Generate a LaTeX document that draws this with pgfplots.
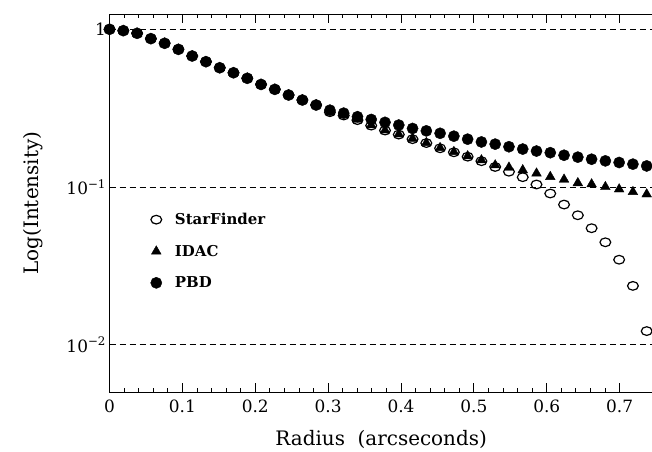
\documentclass[border=0pt]{standalone}
\usepackage{fontspec}
\setmainfont{DejaVu Serif}
\usepackage{pgfplots}
\pgfplotsset{compat=1.18}
\begin{document}
\begin{tikzpicture}
\begin{axis}[
  name=ax,
  scale only axis,
  width=543bp, height=378bp,
  xmin=0, xmax=0.7455,
  ymode=log, ymin=0.005, ymax=1.25,
  xtick={0,0.1,0.2,0.3,0.4,0.5,0.6,0.7},
  xticklabels={0,0.1,0.2,0.3,0.4,0.5,0.6,0.7},
  minor x tick num=4,
  ytick={0.01,0.1,1},
  yticklabels={10\textsuperscript{−2},10\textsuperscript{−1},1},
  /pgf/number format/assume math mode=true,
  yminorticks=false,
  tick align=inside,
  xtick pos=both,
  major tick length=9bp, minor tick length=4bp,
  ytick style={draw=none},
  tick style={black, line width=0.9pt},
  axis line style={line width=0.9pt},
  xticklabel style={font=\fontsize{17}{20}\selectfont, yshift=-4bp},
  yticklabel style={font=\fontsize{17}{20}\selectfont},
  xlabel={Radius\ \ (arcseconds)},
  ylabel={Log(Intensity)},
  label style={font=\fontsize{20}{24}\selectfont},
  xlabel style={yshift=-11bp},
  ylabel style={yshift=17bp},
  legend style={draw=none, fill=none, at={(axis cs:0.0478,0.0725)}, anchor=north west,
    font=\bfseries\fontsize{15}{17}\selectfont, row sep=15bp,
    legend cell align=left},
  legend image code/.code={\draw[#1] plot coordinates {(0.3cm,0cm)}; \path (0cm,0cm) (25bp,0cm);},
  clip=false,
]
\addplot[forget plot, black, line width=0.9pt, dash pattern=on 6.5bp off 3.5bp] coordinates {(0,1) (0.7455,1)};
\addplot[forget plot, black, line width=0.9pt, dash pattern=on 6.5bp off 3.5bp] coordinates {(0,0.1) (0.7455,0.1)};
\addplot[forget plot, black, line width=0.9pt, dash pattern=on 6.5bp off 3.5bp] coordinates {(0,0.01) (0.7455,0.01)};

% StarFinder
\addplot[only marks, mark=o, mark size=5.4bp, mark options={line width=1.2pt, yscale=0.8, fill=none}, black] coordinates {
(0.0000,1.000) (0.0189,0.980) (0.0378,0.943) (0.0567,0.872) (0.0756,0.815)
(0.0945,0.746) (0.1134,0.677) (0.1323,0.623) (0.1512,0.570) (0.1701,0.530)
(0.1890,0.489) (0.2079,0.447) (0.2268,0.416) (0.2457,0.383) (0.2646,0.356)
(0.2835,0.331) (0.3024,0.298) (0.3213,0.284) (0.3402,0.2655) (0.3591,0.245)
(0.3780,0.228) (0.3969,0.215) (0.4158,0.201) (0.4347,0.190) (0.4536,0.176)
(0.4725,0.166) (0.4914,0.1557) (0.5103,0.1458) (0.5292,0.134) (0.5481,0.125)
(0.5670,0.1154) (0.5859,0.1037) (0.6048,0.0909) (0.6237,0.0774) (0.6426,0.0662)
(0.6615,0.0548) (0.6804,0.0446) (0.6993,0.0346) (0.7182,0.0236) (0.7371,0.0122)
};
\addlegendentry{StarFinder}
% IDAC
\addplot[only marks, mark=triangle*, mark size=5.6bp, black] coordinates {
(0.0000,1.000) (0.0189,0.980) (0.0378,0.943) (0.0567,0.872) (0.0756,0.815)
(0.0945,0.746) (0.1134,0.677) (0.1323,0.623) (0.1512,0.570) (0.1701,0.530)
(0.1890,0.489) (0.2079,0.447) (0.2268,0.416) (0.2457,0.383) (0.2646,0.356)
(0.2835,0.331) (0.3024,0.300) (0.3213,0.286) (0.3402,0.268) (0.3591,0.247)
(0.3780,0.229) (0.3969,0.216) (0.4158,0.203) (0.4347,0.1905) (0.4536,0.177)
(0.4725,0.167) (0.4914,0.157) (0.5103,0.148) (0.5292,0.1375) (0.5481,0.133)
(0.5670,0.128) (0.5859,0.122) (0.6048,0.116) (0.6237,0.1116) (0.6426,0.106)
(0.6615,0.1042) (0.6804,0.1001) (0.6993,0.0968) (0.7182,0.0931) (0.7371,0.090)
};
\addlegendentry{IDAC}
% PBD
\addplot[only marks, mark=*, mark size=5.6bp, black] coordinates {
(0.0000,1.000) (0.0189,0.980) (0.0378,0.943) (0.0567,0.872) (0.0756,0.815)
(0.0945,0.746) (0.1134,0.677) (0.1323,0.623) (0.1512,0.570) (0.1701,0.530)
(0.1890,0.489) (0.2079,0.447) (0.2268,0.416) (0.2457,0.383) (0.2646,0.356)
(0.2835,0.331) (0.3024,0.307) (0.3213,0.294) (0.3402,0.279) (0.3591,0.268)
(0.3780,0.257) (0.3969,0.247) (0.4158,0.235) (0.4347,0.227) (0.4536,0.219)
(0.4725,0.210) (0.4914,0.201) (0.5103,0.193) (0.5292,0.187) (0.5481,0.180)
(0.5670,0.174) (0.5859,0.169) (0.6048,0.165) (0.6237,0.159) (0.6426,0.1546)
(0.6615,0.150) (0.6804,0.1464) (0.6993,0.143) (0.7182,0.1396) (0.7371,0.136)
};
\addlegendentry{PBD}
\end{axis}
\pgfresetboundingbox
\path[use as bounding box] ([shift={(-109.5bp,-59bp)}]ax.south west) rectangle ([shift={(-0.8bp,14bp)}]ax.north east);
\end{tikzpicture}
\end{document}
